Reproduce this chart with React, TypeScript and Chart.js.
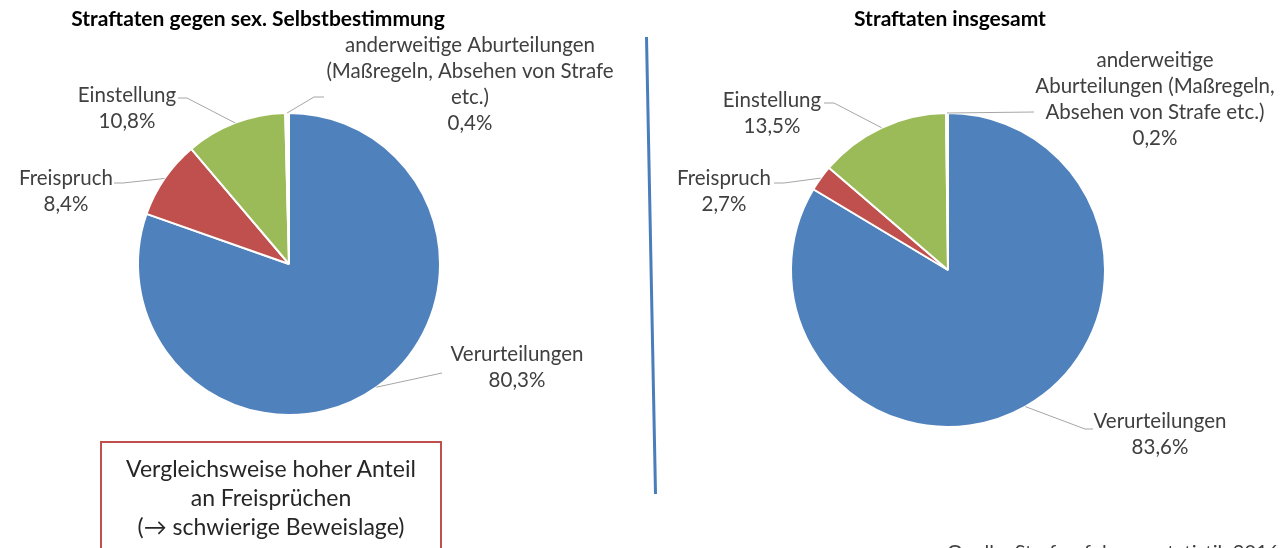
import React, { useEffect, useRef } from "react";
import { Chart, registerables } from "chart.js";

Chart.register(...registerables);

// ---- data ----
const categories = [
  "Verurteilungen",
  "Freispruch",
  "Einstellung",
  "anderweitige Aburteilungen (Maßregeln, Absehen von Strafe etc.)",
];
const sexOffenceShares = [80.3, 8.4, 10.8, 0.4];
const totalShares = [83.6, 2.7, 13.5, 0.2];
const sliceColors = ["#4F81BD", "#C0504D", "#9BBB59", "#FFFFFF"];
const chartTitles = ["Straftaten gegen sex. Selbstbestimmung", "Straftaten insgesamt"];
const noteLines = ["Vergleichsweise hoher Anteil", "an Freisprüchen", "(\u2192 schwierige Beweislage)"];
const sourceText = "Quelle: Strafverfolgungsstatistik 2016";

// ---- layout (page coordinates) ----
type LabelLayout = { lines: string[]; cx: number; cy: number; path: number[][] };

const leftLabels: LabelLayout[] = [
  { lines: ["Verurteilungen"], cx: 517, cy: 354, path: [[442, 373]] },
  { lines: ["Freispruch"], cx: 66, cy: 178, path: [[123, 183], [114, 183]] },
  { lines: ["Einstellung"], cx: 127, cy: 95, path: [[187, 98], [178, 98]] },
  {
    lines: ["anderweitige Aburteilungen", "(Maßregeln, Absehen von Strafe", "etc.)"],
    cx: 470,
    cy: 45,
    path: [[314, 97], [324, 97]],
  },
];

const rightLabels: LabelLayout[] = [
  { lines: ["Verurteilungen"], cx: 1160, cy: 421, path: [[1085, 429], [1093, 429]] },
  { lines: ["Freispruch"], cx: 724, cy: 178, path: [[784, 183], [774, 183]] },
  { lines: ["Einstellung"], cx: 772, cy: 100, path: [[834, 103], [824, 103]] },
  {
    lines: ["anderweitige", "Aburteilungen (Maßregeln,", "Absehen von Strafe etc.)"],
    cx: 1155,
    cy: 60,
    path: [[1034, 112]],
  },
];

const LABEL_FONT = "20.5px Lato";
const LINE_H = 26;

const fmt = (v: number) => v.toFixed(1).replace(".", ",") + "%";

function makeLabelPlugin(labels: LabelLayout[], values: number[], offsetX: number) {
  return {
    id: "leaderLabels",
    afterDatasetsDraw(chart: any) {
      const ctx = chart.ctx as CanvasRenderingContext2D;
      const meta = chart.getDatasetMeta(0);
      ctx.save();
      meta.data.forEach((arc: any, i: number) => {
        const lab = labels[i];
        if (!lab) return;
        const p = arc.getProps(["x", "y", "startAngle", "endAngle", "outerRadius"], true);
        const mid = (p.startAngle + p.endAngle) / 2;
        const sx = p.x + Math.cos(mid) * p.outerRadius;
        const sy = p.y + Math.sin(mid) * p.outerRadius;
        ctx.beginPath();
        ctx.strokeStyle = "#A6A6A6";
        ctx.lineWidth = 1;
        ctx.moveTo(sx, sy);
        lab.path.forEach(([x, y]) => ctx.lineTo(x - offsetX, y));
        ctx.stroke();

        ctx.fillStyle = "#404040";
        ctx.font = LABEL_FONT;
        ctx.textAlign = "center";
        ctx.textBaseline = "middle";
        const all = [...lab.lines, fmt(values[i])];
        all.forEach((t, k) => ctx.fillText(t, lab.cx - offsetX, lab.cy + k * LINE_H));
      });
      ctx.restore();
    },
  };
}

function PieCanvas(props: {
  values: number[];
  labels: LabelLayout[];
  left: number;
  width: number;
  centerX: number;
  centerY: number;
  radius: number;
}) {
  const ref = useRef<HTMLCanvasElement | null>(null);
  const { values, labels, left, width, centerX, centerY, radius } = props;
  useEffect(() => {
    let chart: Chart | null = null;
    let cancelled = false;
    const height = 548;
    const cxLocal = centerX - left;
    const create = () => {
      if (cancelled || !ref.current) return;
      chart = new Chart(ref.current, {
        type: "pie",
        data: {
          labels: categories,
          datasets: [
            {
              data: values,
              backgroundColor: sliceColors,
              borderColor: "#FFFFFF",
              borderWidth: 2,
              radius: radius,
            } as any,
          ],
        },
        options: {
          responsive: false,
          animation: false,
          devicePixelRatio: 1,
          layout: {
            padding: {
              left: 0,
              top: 0,
              right: width - 2 * cxLocal,
              bottom: height - 2 * centerY,
            },
          },
          plugins: {
            legend: { display: false },
            tooltip: { enabled: false },
            title: { display: false },
          },
        },
        plugins: [makeLabelPlugin(labels, values, left)],
      });
    };
    const fonts: any = (document as any).fonts;
    if (fonts && fonts.load) {
      fonts.load(LABEL_FONT).then(create, create);
    } else create();
    return () => {
      cancelled = true;
      if (chart) chart.destroy();
    };
  }, []);
  return (
    <canvas
      ref={ref}
      width={width}
      height={548}
      style={{ position: "absolute", left, top: 0, width, height: 548 }}
    />
  );
}

export default function App() {
  const titleStyle: React.CSSProperties = {
    position: "absolute",
    top: 5,
    fontFamily: "Lato, sans-serif",
    fontWeight: 700,
    fontSize: 21,
    lineHeight: "26px",
    color: "#000",
    textAlign: "center",
    whiteSpace: "nowrap",
  };
  return (
    <div
      style={{
        position: "fixed",
        left: 0,
        top: 0,
        width: 1282,
        height: 548,
        overflow: "hidden",
        background: "#fff",
      }}
    >
      <PieCanvas values={sexOffenceShares} labels={leftLabels} left={0} width={640} centerX={289} centerY={264} radius={151} />
      <PieCanvas values={totalShares} labels={rightLabels} left={640} width={642} centerX={948} centerY={270} radius={157} />
      <div style={{ ...titleStyle, left: 8, width: 500 }}>{chartTitles[0]}</div>
      <div style={{ ...titleStyle, left: 750, width: 400 }}>{chartTitles[1]}</div>
      <div
        style={{
          position: "absolute",
          left: 645,
          top: 37,
          width: 3,
          height: 457,
          background: "#4A7EBB",
          transform: "rotate(-1.13deg)",
          transformOrigin: "top center",
        }}
      />
      <div
        style={{
          position: "absolute",
          left: 100,
          top: 441,
          width: 338,
          height: 120,
          border: "2px solid #C0504D",
          boxSizing: "content-box",
          paddingTop: 11,
          fontFamily: "Lato, sans-serif",
          fontSize: 23,
          lineHeight: "29px",
          color: "#262626",
          textAlign: "center",
        }}
      >
        {noteLines.map((l, i) => (
          <div key={i}>{l}</div>
        ))}
      </div>
      <div
        style={{
          position: "absolute",
          left: 947,
          top: 539,
          fontFamily: "Lato, sans-serif",
          fontSize: 20,
          lineHeight: "24px",
          color: "#404040",
          whiteSpace: "nowrap",
        }}
      >
        {sourceText}
      </div>
    </div>
  );
}
